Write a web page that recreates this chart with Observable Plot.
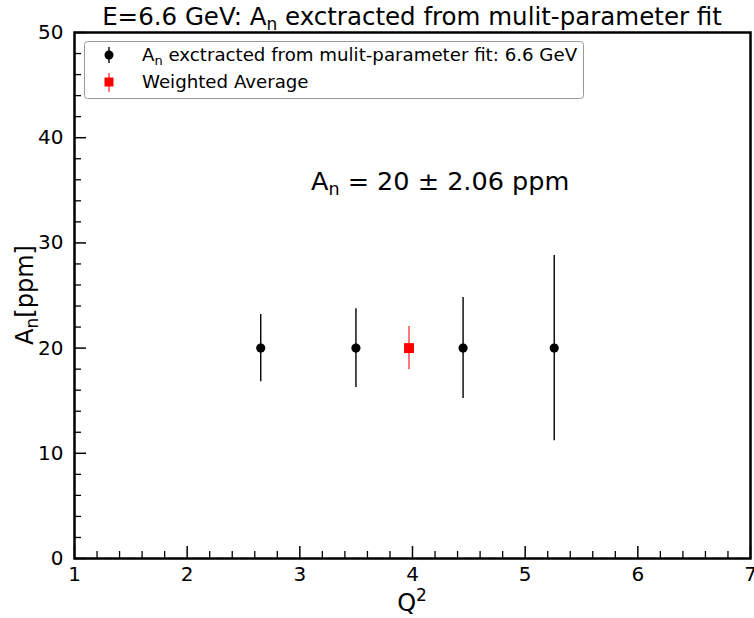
<!DOCTYPE html>
<html><head><meta charset="utf-8">
<script src="https://cdn.jsdelivr.net/npm/d3@7"></script>
<script src="https://cdn.jsdelivr.net/npm/@observablehq/plot@0.6"></script>
<style>body{margin:0;background:#fff;} #chart svg{font-family:"DejaVu Sans",sans-serif;}</style>
</head><body><div id="chart"></div>
<script>
// Data
const q2 = [2.653, 3.498, 4.449, 5.258];
const an = [20, 20, 20, 20];
const anErr = [3.2, 3.75, 4.8, 8.8];
const avgQ2 = [3.969];
const avgAn = [20];
const avgErr = [2.06];
// Ticks
const xMajor = [1, 2, 3, 4, 5, 6, 7];
const xMinor = [1.2,1.4,1.6,1.8,2.2,2.4,2.6,2.8,3.2,3.4,3.6,3.8,4.2,4.4,4.6,4.8,5.2,5.4,5.6,5.8,6.2,6.4,6.6,6.8];
const yMajor = [0, 10, 20, 30, 40, 50];
const yMinor = [2,4,6,8,12,14,16,18,22,24,26,28,32,34,36,38,42,44,46,48];
// Texts
const titleMain = "E=6.6 GeV: A";
const titleSub = "n";
const titleRest = " exctracted from mulit-parameter fit";
const legendLabels = ["exctracted from mulit-parameter fit: 6.6 GeV", "Weighted Average"];
const annotation = " = 20 \u00b1 2.06 ppm";

const points = q2.map((x, i) => ({x, y: an[i], lo: an[i] - anErr[i], hi: an[i] + anErr[i]}));
const avg = avgQ2.map((x, i) => ({x, y: avgAn[i], lo: avgAn[i] - avgErr[i], hi: avgAn[i] + avgErr[i]}));

const W = 754, H = 618, mL = 74, mR = 4, mT = 32, mB = 60;

const chart = Plot.plot({
  width: W, height: H,
  marginLeft: mL, marginRight: mR, marginTop: mT, marginBottom: mB,
  style: {fontFamily: "DejaVu Sans", background: "#fff"},
  x: {domain: [1, 7]},
  y: {domain: [0, 50]},
  marks: [
    Plot.axisX(xMinor, {tickSize: -7, tickFormat: () => "", label: null, strokeWidth: 1.3}),
    Plot.axisX(xMajor, {tickSize: -12, tickPadding: 20, fontSize: 20, label: null, strokeWidth: 1.5, fill: "black"}),
    Plot.axisY(yMinor, {tickSize: -7, tickFormat: () => "", label: null, strokeWidth: 1.3}),
    Plot.axisY(yMajor, {tickSize: -12, tickPadding: 23, fontSize: 20, label: null, strokeWidth: 1.5, fill: "black"}),
    Plot.frame({stroke: "black", strokeWidth: 2.5}),
    Plot.ruleX(points, {x: "x", y1: "lo", y2: "hi", stroke: "black", strokeWidth: 1.4}),
    Plot.dot(points, {x: "x", y: "y", r: 4.6, fill: "black", stroke: null}),
    Plot.ruleX(avg, {x: "x", y1: "lo", y2: "hi", stroke: "red", strokeOpacity: 0.75, strokeWidth: 1.4}),
    Plot.dot(avg, {x: "x", y: "y", symbol: "square", r: 5.6, fill: "red", stroke: null})
  ]
});

document.getElementById("chart").appendChild(chart);
const svg = d3.select(chart);
const cx = mL + (W - mL - mR) / 2;

// Title
const t = svg.append("text").attr("x", cx).attr("y", 25).attr("text-anchor", "middle")
  .attr("font-size", 24.5).attr("fill", "black");
t.append("tspan").text(titleMain);
t.append("tspan").attr("font-size", 17).attr("dy", 5).text(titleSub);
t.append("tspan").attr("dy", -5).text(titleRest);

// X label
const xl = svg.append("text").attr("x", cx).attr("y", 611).attr("text-anchor", "middle")
  .attr("font-size", 24).attr("fill", "black");
xl.append("tspan").text("Q");
xl.append("tspan").attr("font-size", 17).attr("dy", -10).text("2");

// Y label
const yl = svg.append("text").attr("transform", `translate(33,${mT + (H - mT - mB) / 2}) rotate(-90)`)
  .attr("text-anchor", "middle").attr("font-size", 24).attr("fill", "black");
yl.append("tspan").text("A");
yl.append("tspan").attr("font-size", 17).attr("dy", 5).text("n");
yl.append("tspan").attr("dy", -5).text("[ppm]");

// Annotation
const an1 = svg.append("text").attr("x", 311).attr("y", 190).attr("text-anchor", "start")
  .attr("font-size", 25.5).attr("fill", "black");
an1.append("tspan").text("A");
an1.append("tspan").attr("font-size", 17.5).attr("dy", 5).text("n");
an1.append("tspan").attr("dy", -5).text(annotation);

// Legend
const lg = svg.append("g").attr("text-anchor", "start");
lg.append("rect").attr("x", 84.5).attr("y", 41.5).attr("width", 499).attr("height", 57).attr("rx", 3)
  .attr("fill", "white").attr("fill-opacity", 0.8).attr("stroke", "#999").attr("stroke-width", 1);
lg.append("line").attr("x1", 109).attr("x2", 109).attr("y1", 47).attr("y2", 63).attr("stroke", "black").attr("stroke-width", 1.4);
lg.append("circle").attr("cx", 109).attr("cy", 55).attr("r", 4.5).attr("fill", "black");
const l1 = lg.append("text").attr("x", 142).attr("y", 61).attr("font-size", 18.2).attr("fill", "black");
l1.append("tspan").text("A");
l1.append("tspan").attr("font-size", 13).attr("dy", 4).text("n");
l1.append("tspan").attr("dy", -4).text(" " + legendLabels[0]);
lg.append("line").attr("x1", 109).attr("x2", 109).attr("y1", 73).attr("y2", 92).attr("stroke", "red").attr("stroke-opacity", 0.75).attr("stroke-width", 1.4);
lg.append("rect").attr("x", 104.5).attr("y", 77.5).attr("width", 9).attr("height", 9).attr("fill", "red");
lg.append("text").attr("x", 142).attr("y", 88).attr("font-size", 18.2).attr("fill", "black").text(legendLabels[1]);
</script>
</body></html>
